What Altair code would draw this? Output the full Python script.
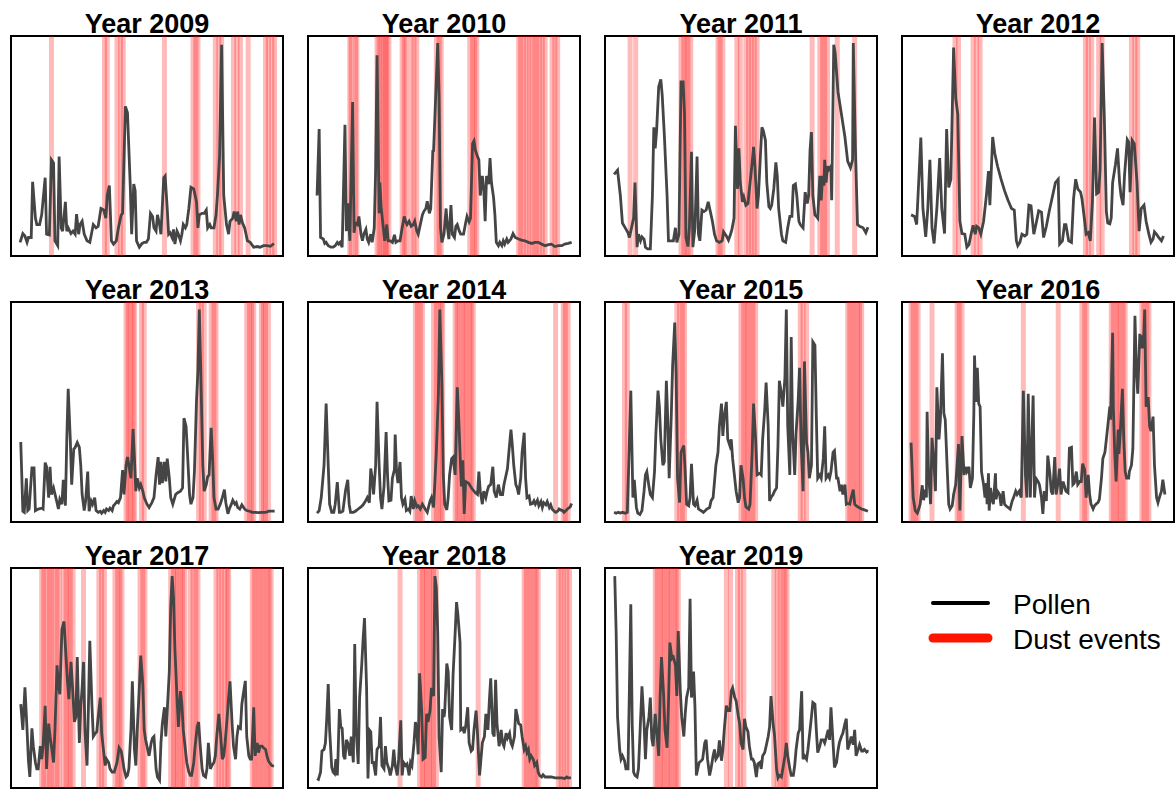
import altair as alt
import pandas as pd

FONT = "Liberation Sans"

# ---- daily pollen index (relative, 0-100) and dust-event days, per year ----
days_2009 = [1,5,8,11,13,17,19,23,25,29,32,37,39,43,46,49,51,55,57,60,62,66,68,70,74,77,80,82,85,87,90,93,97,101,106,110,113,117,121,124,126,129,132,135,139,142,146,148,152,155,159,161,164,166,168,172,176,179,182,185,188,191,193,196,198,201,203,207,209,212,214,216,219,221,223,226,228,231,233,235,238,240,243,246,250,254,256,258,262,265,268,270,273,275,279,282,284,287,290,293,297,300,302,306,308,311,313,315,317,320,323,325,327,331,336,341,345,350,355,360,365]
pollen_2009 = [6.2,10.2,9.1,6.2,8.4,8.4,33.7,17.2,14.3,14.3,18.7,35.6,9.9,9.6,43.7,42.3,6.9,4.7,45.2,12.8,11.3,24.6,11.3,12.8,10.2,11.3,9.9,19.0,9.9,14.3,15.8,9.9,6.9,6.2,14.3,12.8,13.5,21.6,20.9,17.2,27.5,32.0,6.9,5.4,6.9,12.8,18.7,19.4,68.0,65.1,32.0,9.9,32.7,29.7,6.9,4.0,5.7,6.2,6.2,7.7,19.4,18.0,12.8,11.3,18.7,14.3,9.9,35.6,36.4,21.6,9.9,10.6,8.4,12.1,5.4,11.3,9.9,6.9,9.9,14.3,12.8,14.3,21.6,31.2,30.5,24.6,12.8,18.7,19.4,19.4,20.9,12.8,14.3,12.8,12.8,18.7,27.5,45.2,96.0,27.5,14.3,9.9,15.8,17.2,20.2,15.8,20.2,14.3,18.7,15.0,12.8,9.9,6.9,6.2,4.0,4.3,4.0,4.7,4.7,4.4,5.7]
dust_2009 = [46,122,126,140,145,149,208,249,253,256,281,286,290,307,312,317,328,353,357,362,366]

days_2010 = [1,4,6,10,12,14,17,21,24,27,30,32,34,37,41,43,45,48,52,54,56,59,61,64,66,68,71,73,75,78,80,83,85,87,90,91,93,96,98,101,103,106,109,112,114,117,120,123,126,128,130,133,136,139,141,144,146,148,152,154,157,159,162,164,167,168,171,174,176,178,180,183,186,188,190,193,195,198,200,202,205,207,211,214,216,219,221,224,226,228,231,233,235,238,240,242,244,247,249,251,254,256,258,261,263,266,268,270,273,275,279,282,285,290,294,299,304,309,313,318,323,328,333,337,342,347,352,356,361,366]
pollen_2010 = [27.5,57.7,8.4,7.7,5.7,6.2,4.7,4.0,4.0,4.7,6.2,5.4,6.2,4.0,59.6,11.3,23.9,6.9,70.0,10.6,15.0,14.3,18.0,9.9,6.9,9.9,12.1,7.7,6.2,9.9,6.2,12.8,39.3,91.2,19.4,33.4,21.6,12.8,6.9,14.3,6.9,6.9,6.2,9.6,6.2,6.9,6.9,12.8,18.0,15.8,14.3,15.8,13.5,14.3,15.8,11.3,9.9,12.8,18.7,20.2,21.6,24.9,19.4,21.6,48.2,47.4,71.7,96.8,71.7,12.8,6.2,9.9,21.6,12.8,7.7,23.1,9.9,8.4,13.5,14.3,11.3,9.9,9.9,15.0,18.0,15.5,17.2,51.1,52.3,48.2,45.2,43.7,27.5,36.4,30.5,15.8,36.4,32.7,44.5,33.4,26.8,18.7,6.2,4.7,6.2,4.7,6.9,5.4,7.7,6.2,7.7,10.2,8.4,7.7,7.2,6.9,6.2,5.7,6.2,6.2,5.4,4.7,5.2,5.4,4.3,4.7,4.7,5.4,5.7,6.2]
dust_2010 = [48,50,56,58,87,90,93,96,99,101,104,123,126,129,136,140,144,172,176,179,220,224,227,230,290,293,297,301,305,309,313,316,320,324,328,338,342,346]

days_2011 = [1,6,10,13,17,21,23,26,29,31,34,36,39,41,44,46,49,53,56,58,60,62,65,68,70,73,77,79,83,86,89,91,94,97,100,102,104,107,109,112,114,117,120,122,124,127,130,133,136,139,142,145,148,152,156,158,162,165,168,170,173,175,178,180,182,185,187,190,193,196,199,201,203,206,208,211,213,215,218,220,223,225,227,230,233,235,237,241,243,247,250,253,256,258,261,263,266,268,272,275,278,280,282,284,286,289,291,293,296,298,300,302,303,305,307,309,312,313,316,318,322,327,332,336,340,343,344,347,350,353,358,362,365]
pollen_2011 = [37.1,39.0,27.5,15.0,12.8,10.6,8.4,12.8,17.2,33.4,4.0,9.9,6.9,8.7,7.7,4.0,3.2,3.2,27.5,58.5,48.9,57.0,76.9,80.3,73.2,55.5,27.5,6.9,6.9,6.9,12.8,6.2,9.9,79.1,79.1,64.4,8.4,4.3,12.8,47.4,4.0,12.8,45.2,9.9,6.9,20.9,20.2,20.9,24.6,20.2,15.8,9.9,6.9,6.2,6.9,11.0,9.1,7.2,9.9,12.1,17.2,59.2,30.5,48.9,33.4,24.6,26.8,23.1,23.9,33.4,42.3,49.6,40.8,21.6,27.5,46.7,58.5,57.0,52.6,33.4,22.4,21.6,23.1,30.5,42.6,36.4,21.6,9.9,6.9,6.2,12.8,18.0,18.0,32.0,32.7,27.5,15.8,14.3,12.8,29.0,23.9,27.5,48.2,56.3,27.5,18.7,18.0,17.2,36.4,25.3,36.4,32.0,43.7,33.4,40.8,39.3,40.8,25.3,96.0,92.3,74.7,64.4,54.1,43.0,40.1,43.7,96.8,49.6,14.3,13.5,12.8,10.6,13.1]
dust_2011 = [24,32,97,101,104,107,111,150,153,157,177,182,190,194,198,202,206,285,296,300,303,307,321,346]

days_2012 = [1,6,9,15,18,22,25,28,31,34,38,42,45,49,52,55,58,62,65,68,71,74,78,81,84,87,90,93,95,98,101,105,109,112,114,118,121,125,130,135,140,145,149,152,154,157,160,164,167,170,173,177,180,184,188,191,195,199,204,208,212,214,218,221,223,227,231,234,237,240,244,246,250,252,255,258,261,264,267,270,272,275,278,281,283,286,288,290,294,297,300,302,305,307,311,313,315,318,321,325,328,331,335,338,342,345,348,350,353,356,360,363]
pollen_2012 = [18.7,18.0,14.3,53.8,21.6,8.7,21.6,43.7,12.8,5.7,21.6,44.5,21.6,10.2,57.7,31.2,34.9,94.8,71.7,64.4,15.8,10.2,9.9,4.0,5.2,9.9,14.0,9.9,13.5,12.8,9.9,15.8,27.5,38.6,23.1,54.1,46.7,40.8,34.9,29.7,25.3,21.6,20.9,6.9,4.7,6.2,9.9,9.1,9.9,23.1,22.8,9.9,14.3,20.5,19.9,8.4,13.5,20.2,27.5,33.4,34.9,5.4,6.9,14.3,14.3,6.9,6.2,26.1,34.9,30.5,29.0,26.1,15.8,9.9,10.6,6.9,24.6,62.9,28.3,29.0,39.3,96.8,64.4,20.2,15.0,14.6,17.2,33.4,41.5,48.9,33.4,27.5,23.1,36.4,52.9,51.8,29.0,52.6,51.1,33.4,11.3,21.6,23.1,15.8,9.9,6.2,7.7,11.0,9.9,8.4,6.9,9.1]
dust_2012 = [64,69,90,95,100,251,255,260,270,275,317,322,326]

days_2013 = [2,5,7,10,12,14,18,21,23,27,32,34,37,39,42,44,46,49,51,54,56,58,61,63,66,68,70,73,75,78,80,83,86,88,90,93,95,98,100,103,105,108,110,113,116,118,121,123,125,128,130,133,135,137,140,142,145,148,150,153,155,157,160,163,165,167,169,172,174,177,179,183,186,190,193,196,199,201,203,205,208,210,212,215,217,220,222,224,227,231,234,236,239,241,244,246,249,251,254,256,258,260,263,265,268,270,272,275,277,279,282,285,288,291,294,296,299,301,304,306,309,311,313,316,319,323,326,330,334,338,343,348,353,358,362,366]
pollen_2013 = [36.4,4.9,4.4,19.9,5.2,5.9,24.6,24.6,5.2,5.9,6.3,5.9,27.0,25.1,11.1,25.1,12.5,15.5,12.8,8.8,5.9,10.3,8.1,19.2,7.4,37.6,60.5,37.6,17.0,33.2,33.9,36.1,33.9,25.8,12.5,5.2,9.6,22.9,4.9,9.6,8.1,11.1,5.2,4.4,4.9,4.0,5.2,4.4,5.9,5.2,6.3,5.2,7.4,8.1,9.3,8.8,11.1,23.6,12.5,25.8,29.5,25.8,19.9,42.3,28.8,14.0,19.9,15.5,17.0,14.0,11.1,8.1,6.6,8.8,11.1,21.4,29.5,17.0,27.3,17.7,27.3,18.4,28.8,19.9,11.1,8.1,10.3,12.5,13.3,14.0,15.5,47.2,43.5,31.7,12.5,8.1,11.1,22.9,55.3,68.6,96.6,70.1,25.8,14.0,17.0,20.6,21.4,42.8,29.5,11.1,5.9,5.9,8.1,11.1,14.7,8.8,3.7,5.9,8.1,9.9,8.1,8.8,6.6,5.9,7.8,5.9,5.2,4.9,4.4,4.4,4.3,4.4,4.4,4.9,4.9,4.9]
dust_2013 = [153,156,159,163,165,175,179,257,261,265,275,279,282,326,330,333,336,347,350,353,357]

days_2014 = [1,4,7,11,14,17,19,22,25,27,30,33,35,38,42,45,47,49,53,56,60,64,67,70,73,76,78,80,82,85,87,90,92,94,97,100,102,104,107,109,112,113,115,117,120,122,124,127,129,132,134,136,139,141,144,146,149,152,156,159,163,165,168,170,172,175,177,180,182,184,187,189,191,194,196,199,202,204,207,208,210,212,213,214,218,221,223,226,228,231,233,235,238,240,243,245,247,250,253,255,258,261,264,267,269,271,274,276,279,281,283,286,288,290,293,295,298,300,302,305,307,310,312,314,317,319,322,324,326,329,331,334,336,338,341,343,346,348,350,353,355,357,360,364,366]
pollen_2014 = [4.0,5.2,11.1,25.8,53.8,25.8,8.1,4.4,4.4,8.1,18.1,4.4,4.4,4.9,14.7,19.2,8.1,4.4,4.4,4.9,5.9,6.9,7.8,9.3,11.1,8.8,24.3,19.9,12.5,25.8,54.6,25.8,11.1,5.9,16.2,40.9,21.4,9.6,9.9,19.9,24.0,39.8,22.9,17.7,27.3,11.1,8.1,10.3,5.2,5.9,4.9,11.8,5.9,9.6,6.9,7.4,5.9,8.1,5.9,4.4,9.6,11.1,6.6,18.4,31.7,58.3,96.6,62.7,21.4,8.1,5.5,11.1,21.4,28.8,29.5,21.4,61.2,47.9,22.9,16.2,28.0,3.7,11.1,18.4,17.7,16.2,15.2,14.0,13.3,12.5,22.9,14.0,8.1,14.0,11.1,14.0,16.2,17.0,25.1,14.0,11.1,17.0,12.5,12.5,17.0,19.9,24.3,31.7,42.0,34.7,25.8,17.0,15.5,12.5,19.9,31.7,40.6,19.9,11.1,11.8,8.1,8.4,9.6,8.1,9.9,7.4,9.3,6.6,8.8,7.8,9.3,6.6,7.8,5.9,4.9,4.4,4.9,5.9,5.5,5.2,4.4,4.9,5.9,6.9,8.4]
dust_2014 = [142,145,149,152,168,172,175,179,181,199,202,205,209,212,215,219,222,225,343,354,357,361]

days_2015 = [1,4,7,10,13,17,20,22,25,28,30,33,35,38,41,44,46,48,51,53,56,59,61,64,66,68,71,73,76,78,80,83,85,88,90,92,95,97,101,103,105,108,110,112,115,117,120,122,124,127,129,132,134,138,140,143,145,147,150,152,155,157,159,162,164,167,169,171,174,176,179,181,183,186,188,190,194,196,199,201,204,206,210,212,214,217,219,222,224,226,229,231,234,236,238,241,243,246,248,250,253,255,257,260,262,265,267,269,272,274,277,279,281,284,286,289,291,293,296,298,301,303,305,308,310,312,315,317,320,322,325,327,329,332,334,336,339,341,344,346,348,352,356,360,365]
pollen_2015 = [4.4,4.0,4.4,4.1,4.4,4.0,4.4,25.8,59.7,11.1,19.2,6.6,4.0,3.4,5.2,14.0,21.4,22.9,16.2,12.5,11.1,22.9,40.6,59.7,52.4,37.6,25.8,27.3,64.2,46.5,19.9,47.9,71.5,90.7,67.1,19.9,8.8,31.7,34.7,22.9,8.1,7.4,11.1,26.5,8.1,7.4,9.9,5.9,5.5,4.9,4.4,5.2,5.9,6.6,9.6,11.1,18.4,25.8,31.7,43.5,53.8,39.1,47.9,54.6,37.6,34.7,37.6,28.8,19.9,14.0,8.8,11.1,25.8,19.9,11.1,6.9,5.9,8.1,31.7,53.8,37.6,21.4,22.1,21.4,37.6,50.9,63.4,43.5,9.6,11.1,12.5,14.0,15.5,34.7,64.2,58.3,52.4,65.6,96.6,43.5,21.4,84.1,40.6,21.4,40.6,55.3,70.1,37.6,14.0,73.0,36.1,31.7,19.9,25.8,81.9,80.4,47.9,19.9,21.4,19.9,28.8,43.5,19.9,21.4,19.9,22.9,31.7,32.4,19.9,19.9,14.0,17.0,12.5,17.0,8.1,8.4,8.1,11.1,14.7,8.1,7.4,6.6,5.9,5.5,4.9]
dust_2015 = [16,20,91,95,99,102,183,187,190,193,197,200,204,268,272,277,336,339,343,346,350,353,356]

days_2016 = [1,4,7,10,12,14,17,19,21,23,24,26,29,31,34,36,38,41,43,46,48,50,53,55,57,60,62,65,67,69,71,74,77,79,81,84,86,89,91,92,94,96,98,100,102,105,107,109,110,112,113,115,117,119,122,123,125,128,130,133,135,137,140,143,146,148,151,153,156,159,162,165,167,169,172,176,178,180,183,185,188,190,192,195,197,200,202,204,207,209,212,214,216,219,221,223,226,228,231,233,235,238,240,243,245,247,250,252,255,257,259,262,264,267,269,271,274,276,279,281,283,286,287,290,291,293,295,298,299,301,304,306,308,310,313,314,317,319,322,324,326,329,330,332,334,336,338,341,343,345,348,350,353,355,357,360,362,365]
pollen_2016 = [36.1,11.1,5.2,4.0,5.9,8.1,16.7,9.9,14.7,11.1,50.1,22.9,8.1,38.3,25.8,14.0,61.2,37.6,46.5,76.7,49.4,46.5,22.9,8.1,5.9,7.4,12.5,17.0,25.8,35.4,5.2,39.1,21.4,25.1,22.9,25.1,15.5,19.9,49.4,75.7,54.6,70.1,53.8,52.4,22.9,17.0,11.1,17.7,8.1,22.1,5.2,15.5,10.3,8.1,22.1,10.3,14.0,12.5,7.4,14.0,8.1,7.4,6.6,5.9,9.6,11.1,14.0,12.5,14.0,11.1,59.7,21.4,11.1,58.3,11.1,57.5,11.1,19.9,18.4,17.0,11.1,3.7,14.0,9.6,30.2,22.1,14.0,12.5,29.5,12.5,18.4,24.3,12.5,18.4,16.2,14.0,13.3,33.5,33.9,17.0,17.7,22.9,17.0,18.4,18.4,26.5,23.6,11.1,21.4,12.5,8.1,5.9,7.4,8.4,8.8,10.3,19.9,28.8,31.7,37.6,43.5,52.4,46.5,86.0,52.4,31.7,18.4,42.0,31.0,40.6,60.5,37.6,22.9,19.9,19.9,22.9,25.8,33.2,93.7,70.1,58.3,85.5,78.9,84.8,78.9,96.6,52.4,56.8,43.5,41.3,47.9,25.8,11.1,8.8,11.1,14.0,19.2,12.5]
dust_2016 = [1,4,8,11,31,67,70,74,162,212,246,250,253,288,291,295,298,301,305,308,332,335,339,342]

days_2017 = [2,5,8,11,13,15,18,20,23,25,27,30,32,34,37,39,42,44,46,49,51,54,56,58,61,64,67,69,71,74,76,79,81,83,86,88,90,92,94,97,99,101,104,106,109,111,113,116,118,121,123,125,128,130,133,136,140,143,146,148,150,153,155,157,160,162,165,167,169,172,174,177,179,181,184,186,189,191,193,196,198,201,203,205,208,210,212,215,217,219,221,223,226,228,231,233,235,238,240,243,245,247,250,252,255,257,259,262,264,267,269,271,274,276,279,281,283,286,288,291,293,295,298,300,302,305,307,310,312,314,317,319,321,324,326,329,331,333,336,338,341,343,345,348,350,353,355,357,360,362,365]
pollen_2017 = [38.1,26.4,45.8,26.4,12.4,5.0,27.1,19.0,11.6,8.7,8.7,19.0,13.1,19.0,37.4,8.7,29.3,23.4,19.0,11.6,26.4,55.8,47.0,42.6,72.0,75.7,58.8,48.5,40.4,57.3,47.0,30.0,32.3,59.5,20.5,36.7,45.5,57.3,26.4,10.2,36.7,66.9,38.1,23.4,24.9,25.6,32.3,41.1,24.9,16.1,10.2,13.1,11.6,8.7,7.2,7.2,11.6,18.3,16.8,13.1,8.7,5.0,5.7,8.7,26.4,48.5,17.5,10.2,26.4,45.5,60.2,47.0,26.4,21.9,17.5,14.6,20.5,22.7,23.4,8.7,5.0,3.5,20.5,29.3,36.7,23.4,35.2,52.9,82.3,96.3,86.7,63.2,41.1,27.8,44.0,38.1,26.4,17.5,11.6,7.2,5.7,5.7,11.6,19.0,27.8,30.0,20.5,8.7,5.7,5.0,8.7,20.5,8.7,10.2,11.6,14.6,23.4,33.7,26.4,13.1,14.6,20.5,32.3,41.1,48.5,29.3,19.0,13.1,23.4,27.8,27.1,38.1,42.6,48.7,23.4,14.6,13.1,13.1,36.7,14.6,20.5,16.1,19.0,19.0,18.3,17.5,14.6,12.4,10.9,10.2,9.9]
dust_2017 = [32,35,39,43,46,50,54,57,63,67,70,73,77,92,114,118,122,137,141,144,147,173,177,180,217,221,224,227,231,234,237,245,249,253,256,282,286,290,294,298,300,334,337,341,344,348,351,355,358,361]

days_2018 = [1,3,6,8,11,13,15,17,19,22,24,26,28,30,31,33,35,37,39,41,43,45,48,50,53,55,57,60,62,65,67,69,72,74,76,78,80,82,85,87,90,92,94,97,99,101,104,106,109,111,113,116,118,121,123,125,128,130,133,135,137,140,142,144,146,148,151,153,156,158,160,163,165,168,170,172,174,176,179,181,183,184,187,189,191,194,196,199,201,203,206,207,210,212,214,217,219,222,224,226,229,231,234,236,238,241,243,246,248,250,253,255,257,259,262,265,267,269,272,274,277,279,281,284,286,288,290,293,295,298,300,302,304,306,308,311,313,316,318,320,323,325,328,333,337,342,347,352,356,359,361,365]
pollen_2018 = [4.3,3.9,7.2,16.8,17.5,20.5,32.3,47.3,26.4,9.4,7.2,6.5,13.1,5.7,13.8,35.9,27.8,27.1,14.6,13.1,21.9,20.5,14.6,23.4,11.6,65.4,26.4,10.9,41.1,55.8,67.6,77.2,45.5,4.3,26.4,25.6,11.6,11.6,5.7,17.5,19.0,32.3,10.2,8.7,19.0,11.6,8.7,5.7,10.2,17.5,10.2,5.7,13.1,30.8,5.7,11.6,10.2,10.9,5.7,11.6,10.2,20.5,30.0,26.4,15.3,52.1,35.2,13.1,13.8,33.7,30.0,35.2,45.5,41.8,96.3,91.2,70.5,23.4,7.2,35.9,32.3,34.5,56.6,52.9,32.3,26.4,51.4,70.5,84.5,78.6,66.1,26.4,27.1,24.9,27.8,36.7,20.5,16.8,17.5,26.4,35.2,24.9,5.7,13.1,20.5,23.4,33.7,26.4,39.6,49.9,24.9,23.4,49.2,29.3,19.0,26.4,20.5,19.0,24.9,22.7,24.9,20.5,19.0,23.4,35.9,33.0,29.3,28.6,23.4,17.5,19.0,16.1,17.5,13.1,14.6,13.1,10.2,11.6,7.2,5.7,5.0,6.0,5.0,5.0,5.0,4.6,4.6,4.6,4.3,5.0,4.6,4.6]
dust_2018 = [120,148,152,155,158,162,165,168,172,232,298,301,305,308,312,315,318,347,351,355,359,363]

days_2019 = [2,4,6,9,11,13,16,18,21,23,25,27,29,31,34,36,38,41,44,46,48,51,53,55,57,60,62,65,67,69,72,74,77,79,81,84,86,89,91,93,96,98,101,103,105,108,110,112,115,117,119,121,123,126,128,131,133,135,138,140,143,145,147,150,152,155,157,159,162,164,167,169,171,174,176,179,181,183,186,188,190,193,195,198,200,202,205,207,210,212,214,217,219,222,224,226,229,231,234,236,238,241,243,246,248,250,253,255,258,260,262,265,267,270,272,274,277,279,281,284,286,289,291,293,296,298,301,303,305,308,310,312,315,317,320,322,324,327,329,332,334,336,339,341,344,346,348,351,353,356,358,360,363,365,366]
pollen_2019 = [96.3,70.5,32.3,17.5,13.1,14.6,12.4,8.7,8.7,45.5,83.5,29.3,7.2,5.7,5.0,8.7,23.4,46.2,29.3,13.1,26.4,32.3,41.1,22.7,19.0,33.7,26.4,14.6,41.1,59.5,42.6,26.4,18.3,38.1,66.1,58.8,59.5,55.8,41.8,71.3,44.0,32.3,23.4,33.7,41.1,45.5,86.0,41.1,52.9,36.7,5.7,8.7,11.6,12.4,13.1,20.5,21.9,13.1,5.7,8.7,14.6,17.5,13.1,14.6,21.6,12.4,17.5,26.4,37.4,35.2,35.2,44.0,45.5,41.1,39.6,33.0,29.3,20.5,17.5,31.5,27.8,25.6,19.0,13.1,13.1,11.6,5.0,10.9,11.6,8.7,14.6,16.1,19.0,23.4,27.8,41.8,29.3,24.2,8.7,4.6,5.7,5.0,8.7,14.6,20.5,14.6,8.7,5.7,5.7,10.2,17.5,24.9,26.4,44.0,13.1,14.6,13.1,17.5,23.4,32.3,38.9,38.1,26.4,16.1,19.0,21.9,21.9,20.5,22.7,26.4,21.9,36.7,20.5,9.4,11.6,16.8,20.5,23.4,24.9,29.3,31.5,17.5,20.5,23.4,19.7,26.4,14.6,17.5,19.7,16.8,16.8,17.5,16.3,16.8,16.8]
dust_2019 = [60,63,67,70,73,77,80,83,87,90,93,162,168,178,182,187,230,235,239,243,246,249]

SERIES = {
    2009: (days_2009, pollen_2009, dust_2009),
    2010: (days_2010, pollen_2010, dust_2010),
    2011: (days_2011, pollen_2011, dust_2011),
    2012: (days_2012, pollen_2012, dust_2012),
    2013: (days_2013, pollen_2013, dust_2013),
    2014: (days_2014, pollen_2014, dust_2014),
    2015: (days_2015, pollen_2015, dust_2015),
    2016: (days_2016, pollen_2016, dust_2016),
    2017: (days_2017, pollen_2017, dust_2017),
    2018: (days_2018, pollen_2018, dust_2018),
    2019: (days_2019, pollen_2019, dust_2019),
}

LEGEND_LABELS = ["Pollen", "Dust events"]
LEGEND_COLORS = ["#000000", "#ff1400"]
LEGEND_WIDTHS = [4, 9]

PANEL_W, PANEL_H = 272, 220
DAY_DOMAIN = [-12, 378]
POLLEN_DOMAIN = [0, 100]


def year_panel(year):
    days, pollen, dust = SERIES[year]
    line_df = pd.DataFrame(list(zip(days, pollen)), columns=["day", "pollen"])
    dust_df = pd.DataFrame({"day": dust})
    x = alt.X("day:Q", scale=alt.Scale(domain=DAY_DOMAIN, nice=False, zero=False), axis=None)
    bands = alt.Chart(dust_df).mark_rule(
        color="#ff0000", opacity=0.27, strokeWidth=5
    ).encode(x=x)
    line = alt.Chart(line_df).mark_line(
        color="#454545", strokeWidth=2.8
    ).encode(
        x=x,
        y=alt.Y("pollen:Q", scale=alt.Scale(domain=POLLEN_DOMAIN, nice=False, zero=False), axis=None),
    )
    return alt.layer(bands, line).properties(
        width=PANEL_W,
        height=PANEL_H,
        title=alt.TitleParams(
            text=f"Year {year}", font=FONT, fontSize=27, fontWeight="bold",
            anchor="middle", offset=-5, color="black",
        ),
    )


def legend_panel():
    df = pd.DataFrame({"label": LEGEND_LABELS, "color": LEGEND_COLORS, "size": LEGEND_WIDTHS})
    y = alt.Y("label:N", axis=None,
              scale=alt.Scale(type="point", domain=LEGEND_LABELS, range=[35, 70], padding=0))
    keys = alt.Chart(df).mark_rule(strokeCap="round").encode(
        y=y, x=alt.value(31), x2=alt.value(86),
        color=alt.Color("color:N", scale=None),
        strokeWidth=alt.StrokeWidth("size:Q", scale=None),
    )
    labels = alt.Chart(df).mark_text(
        align="left", baseline="alphabetic", dy=11, fontSize=28, font=FONT, color="black"
    ).encode(y=y, x=alt.value(111), text="label:N")
    return alt.layer(keys, labels).properties(
        width=PANEL_W, height=PANEL_H, view=alt.ViewBackground(stroke="transparent")
    )


rows = [
    alt.hconcat(*[year_panel(y) for y in [2009, 2010, 2011, 2012]], spacing=25, bounds="flush"),
    alt.hconcat(*[year_panel(y) for y in [2013, 2014, 2015, 2016]], spacing=25, bounds="flush"),
    alt.hconcat(*[year_panel(y) for y in [2017, 2018, 2019]], legend_panel(), spacing=25, bounds="flush"),
]

chart = alt.vconcat(*rows, spacing=15).properties(
    padding={"left": 10, "top": 9, "right": 0, "bottom": 0},
    background="white",
).configure_view(stroke="black", strokeWidth=2)

chart.save("out.html", embed_options={"renderer": "svg", "actions": False})
